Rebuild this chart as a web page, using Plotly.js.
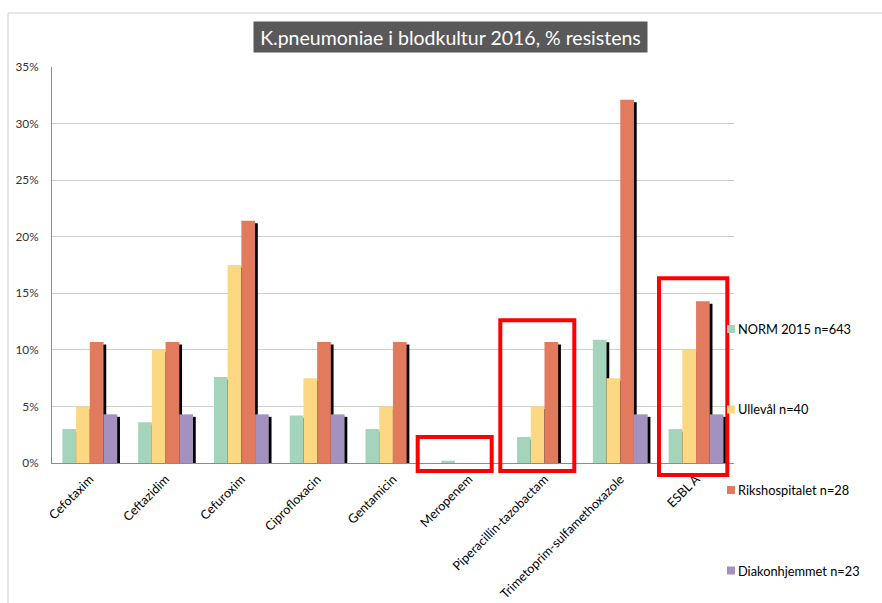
<!DOCTYPE html>
<html>
<head>
<meta charset="utf-8">
<script src="https://cdn.plot.ly/plotly-3.0.1.min.js"></script>
<style>html,body{margin:0;padding:0;background:#fff;}#chart{width:882px;height:603px;}
#chart .legend .legendpoints{opacity:0;}</style>
</head>
<body>
<div id="chart"></div>
<script>
const categories = ["Cefotaxim","Ceftazidim","Cefuroxim","Ciprofloxacin","Gentamicin","Meropenem","Piperacillin-tazobactam","Trimetoprim-sulfamethoxazole","ESBL A"];
const seriesNames = ["NORM 2015 n=643","Ullevål n=40","Rikshospitalet n=28","Diakonhjemmet n=23"];
const norm2015 = [3.0, 3.6, 7.6, 4.2, 3.0, 0.2, 2.3, 10.9, 3.0];
const ulleval = [5.0, 10.0, 17.5, 7.5, 5.0, 0, 5.0, 7.5, 10.0];
const rikshospitalet = [10.7, 10.7, 21.4, 10.7, 10.7, 0, 10.7, 32.1, 14.3];
const diakonhjemmet = [4.3, 4.3, 4.3, 4.3, 0, 0, 0, 4.3, 4.3];
const yTickVals = [0,5,10,15,20,25,30,35];
const yTickText = ["0%","5%","10%","15%","20%","25%","30%","35%"];

const seriesValues = [norm2015, ulleval, rikshospitalet, diakonhjemmet];
const colors = ["#a5d4bc","#fdd882","#e27a5e","#a392bf"];
const barW = 0.181;
const groupStart = -0.363;
const shadowDx = 0.036;
const shadowDy = 0.22;

const traces = [];
seriesValues.forEach((vals, i) => {
  traces.push({
    type: 'bar', x: categories, y: vals.map(v => v > 0 ? v : null),
    base: -shadowDy, offset: groupStart + i*barW + shadowDx, width: barW,
    marker: {color: '#000000', line: {width: 0}},
    showlegend: false, hoverinfo: 'skip'
  });
});
seriesValues.forEach((vals, i) => {
  traces.push({
    type: 'bar', name: seriesNames[i], x: categories, y: vals,
    offset: groupStart + i*barW, width: barW,
    marker: {color: colors[i], line: {width: 0}},
    legendgroup: 'g' + i
  });
});

const L = 52, T = 67, W = 682, H = 396;
function px(x){ return (x - L) / W; }
function py(y){ return (T + H - y) / H; }
function box(x0, y0, x1, y1){
  return {type:'rect', xref:'paper', yref:'paper', x0:px(x0), x1:px(x1), y0:py(y1), y1:py(y0),
          line:{color:'#ff0000', width:4}, fillcolor:'rgba(0,0,0,0)', layer:'above'};
}
const legendRows = [329, 409.5, 490, 570.5];
const legendSquares = legendRows.map((yc, i) => ({
  type:'rect', xref:'paper', yref:'paper', x0:px(727), x1:px(735), y0:py(yc+4), y1:py(yc-4),
  line:{width:0}, fillcolor: colors[i], layer:'above'
}));

const layout = {
  width: 882, height: 603,
  margin: {l: L, r: 882 - L - W, t: T, b: 603 - T - H, pad: 0},
  paper_bgcolor: '#ffffff', plot_bgcolor: '#ffffff',
  font: {family: 'Lato, "Open Sans", sans-serif', size: 11, color: '#000000'},
  barmode: 'overlay',
  xaxis: {
    type: 'category', tickangle: -45, showgrid: false, zeroline: false,
    showline: true, linecolor: '#8c8c8c', linewidth: 1, ticks: '',
    tickfont: {size: 12.6, color: '#000000'}, ticklabelstandoff: 3,
    range: [-0.5, 8.5], fixedrange: true
  },
  yaxis: {
    range: [0, 35], tickvals: yTickVals, ticktext: yTickText,
    showgrid: true, gridcolor: '#d0d0d0', gridwidth: 1, zeroline: false,
    showline: true, linecolor: '#8c8c8c', linewidth: 1, ticks: '',
    tickfont: {size: 11.8, color: '#333333'}, ticklabelstandoff: 10, fixedrange: true
  },
  legend: {
    x: px(698), y: py(314), xanchor: 'left', yanchor: 'top',
    traceorder: 'grouped', tracegroupgap: 61, itemwidth: 30,
    font: {size: 12.8, color: '#000000'}, bgcolor: 'rgba(0,0,0,0)'
  },
  annotations: [{
    text: 'K.pneumoniae i blodkultur 2016, % resistens',
    xref: 'paper', yref: 'paper', x: px(450.5), y: py(37), xanchor: 'center', yanchor: 'middle',
    showarrow: false, bgcolor: '#595959', font: {size: 19.5, color: '#ffffff'},
    borderpad: 4, width: 385, height: 22
  }],
  shapes: [
    {type:'line', xref:'paper', yref:'paper', x0:px(8), x1:px(882), y0:py(13), y1:py(13), line:{color:'#d0d0d0', width:1}},
    {type:'line', xref:'paper', yref:'paper', x0:px(8), x1:px(8), y0:py(13), y1:py(603), line:{color:'#d0d0d0', width:1}},
    box(417.7, 437, 491.7, 471),
    box(500.3, 320.3, 574.3, 471),
    box(659, 278.3, 727.3, 475)
  ].concat(legendSquares)
};

Plotly.newPlot('chart', traces, layout, {displayModeBar: false, staticPlot: true});
</script>
</body>
</html>
